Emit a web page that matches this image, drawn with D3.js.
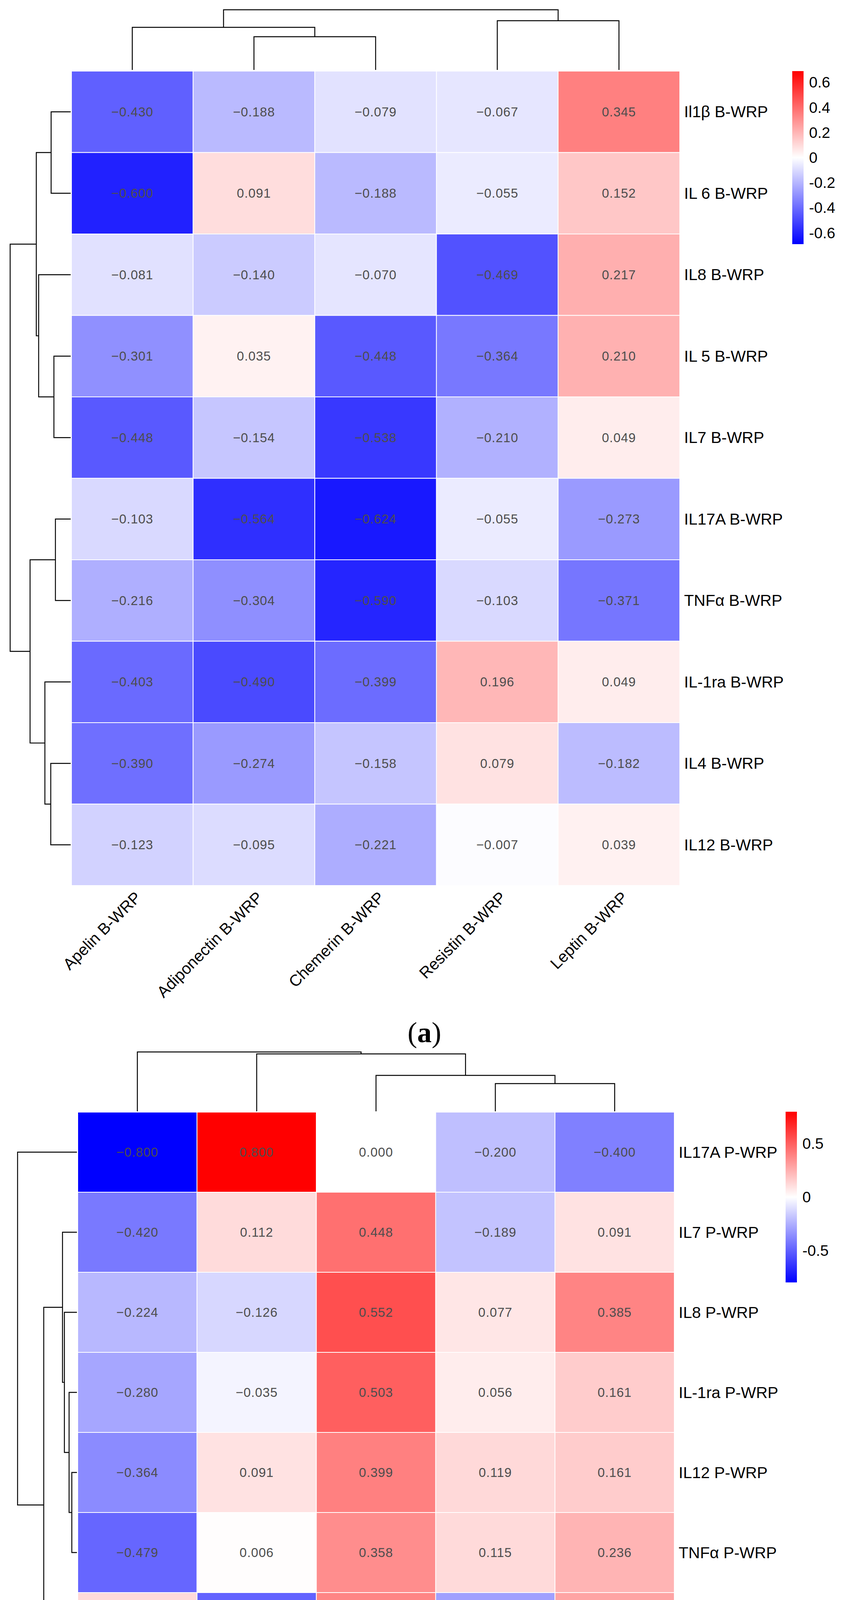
<!DOCTYPE html>
<html>
<head>
<meta charset="utf-8">
<script src="https://cdn.jsdelivr.net/npm/d3@7"></script>
<style>
  body { margin: 0; background: #fff; }
  svg { display: block; }
</style>
</head>
<body>
<svg width="2159" height="5323"></svg>
<script>
// ---- panel (a) data ----
const rowsA = ["Il1β B-WRP", "IL 6 B-WRP", "IL8 B-WRP", "IL 5 B-WRP", "IL7 B-WRP",
  "IL17A B-WRP", "TNFα B-WRP", "IL-1ra B-WRP", "IL4 B-WRP", "IL12 B-WRP"];
const colsA = ["Apelin B-WRP", "Adiponectin B-WRP", "Chemerin B-WRP", "Resistin B-WRP", "Leptin B-WRP"];
const valuesA = [
  [-0.430, -0.188, -0.079, -0.067, 0.345],
  [-0.600, 0.091, -0.188, -0.055, 0.152],
  [-0.081, -0.140, -0.070, -0.469, 0.217],
  [-0.301, 0.035, -0.448, -0.364, 0.210],
  [-0.448, -0.154, -0.538, -0.210, 0.049],
  [-0.103, -0.564, -0.624, -0.055, -0.273],
  [-0.216, -0.304, -0.590, -0.103, -0.371],
  [-0.403, -0.490, -0.399, 0.196, 0.049],
  [-0.390, -0.274, -0.158, 0.079, -0.182],
  [-0.123, -0.095, -0.221, -0.007, 0.039]
];
// hclust style merges: negative = leaf, positive = earlier merge (1-based), then height
const rowTreeA = [[-1, -2, 0.323], [-4, -5, 0.277], [-3, 2, 0.529], [1, 3, 0.568],
  [-6, -7, 0.252], [-9, -10, 0.329], [-8, 6, 0.426], [5, 7, 0.671], [4, 8, 1.0]];
const colTreeA = [[-2, -3, 0.552], [-1, 1, 0.708], [-4, -5, 0.818], [2, 3, 1.0]];
const legendTicksA = [0.6, 0.4, 0.2, 0, -0.2, -0.4, -0.6];
const limitA = 0.69;

// ---- panel (b) data ----
const rowsB = ["IL17A P-WRP", "IL7 P-WRP", "IL8 P-WRP", "IL-1ra P-WRP", "IL12 P-WRP",
  "TNFα P-WRP", "Il1β P-WRP", "IL4 P-WRP", "IL5 P-WRP", "IL6 P-WRP"];
const colsB = ["Adiponectin P-WRP", "Apelin P-WRP", "Leptin P-WRP", "Chemerin P-WRP", "Resistin P-WRP"];
const valuesB = [
  [-0.800, 0.800, 0.000, -0.200, -0.400],
  [-0.420, 0.112, 0.448, -0.189, 0.091],
  [-0.224, -0.126, 0.552, 0.077, 0.385],
  [-0.280, -0.035, 0.503, 0.056, 0.161],
  [-0.364, 0.091, 0.399, 0.119, 0.161],
  [-0.479, 0.006, 0.358, 0.115, 0.236],
  [0.115, -0.491, 0.382, -0.297, 0.285],
  [-0.200, -0.309, 0.345, 0.309, -0.127],
  [0.035, -0.133, 0.315, 0.070, 0.042],
  [0.055, -0.188, 0.383, 0.134, 0.304]
];
const rowTreeB = [[-5, -6, 0.086], [-4, 1, 0.132], [-3, 2, 0.211], [-2, 3, 0.243],
  [-9, -10, 0.151], [-8, 5, 0.296], [-7, 6, 0.408], [4, 7, 0.559], [-1, 8, 1.0]];
const colTreeB = [[-4, -5, 0.467], [-3, 1, 0.605], [-2, 2, 0.967], [-1, 3, 1.0]];
const legendTicksB = [0.5, 0, -0.5];
const limitB = 0.8;

const svg = d3.select("svg");
svg.append("rect").attr("width", 2159).attr("height", 5323).attr("fill", "#fff");
const root = svg.append("g");

const sans = "'Liberation Sans', Arial, Helvetica, sans-serif";

function fmt(v) {
  return d3.format(".3f")(v).replace("-", "\u2212");
}

// draw a dendrogram; pos(leaf) gives the leaf centre, hs maps height to pixels
function dendro(g, tree, pos, hs, vertical) {
  const nodes = [];
  const get = (k) => (k < 0 ? { p: pos(-k - 1), h: 0 } : nodes[k - 1]);
  tree.forEach(([a, b, h]) => {
    const A = get(a), B = get(b);
    nodes.push({ p: (A.p + B.p) / 2, h: h });
    let pts = [[A.p, A.h], [A.p, h], [B.p, h], [B.p, B.h]];
    pts = pts.map(([p, hh]) => (vertical ? [p, hs(hh)] : [hs(hh), p]));
    g.append("path")
      .attr("d", d3.line()(pts))
      .attr("fill", "none")
      .attr("stroke", "#000")
      .attr("stroke-width", 2.4);
  });
}

function panel(cfg) {
  const g = root.append("g");
  const x = d3.scaleBand().domain(cfg.cols).range([cfg.x0, cfg.x1]);
  const y = d3.scaleBand().domain(cfg.rows).range([cfg.y0, cfg.y1]);
  const color = d3.scaleLinear()
    .domain([-cfg.limit, 0, cfg.limit])
    .range(["#0000ff", "#ffffff", "#ff0000"])
    .clamp(true);

  const cells = [];
  cfg.values.forEach((row, i) =>
    row.forEach((v, j) => cells.push({ r: cfg.rows[i], c: cfg.cols[j], v: v })));

  g.selectAll("rect.cell").data(cells).enter().append("rect")
    .attr("class", "cell")
    .attr("x", (d) => x(d.c))
    .attr("y", (d) => y(d.r))
    .attr("width", x.bandwidth())
    .attr("height", y.bandwidth())
    .attr("fill", (d) => color(d.v))
    .attr("stroke", "#fff")
    .attr("stroke-width", 2);

  g.selectAll("text.num").data(cells).enter().append("text")
    .attr("class", "num")
    .attr("x", (d) => x(d.c) + x.bandwidth() / 2)
    .attr("y", (d) => y(d.r) + y.bandwidth() / 2)
    .attr("text-anchor", "middle")
    .attr("dominant-baseline", "central")
    .style("font-family", sans)
    .style("font-size", "33px")
    .style("letter-spacing", "1px")
    .attr("fill", "#4d4d4d")
    .text((d) => fmt(d.v));

  // row labels
  g.selectAll("text.rl").data(cfg.rows).enter().append("text")
    .attr("x", cfg.x1 + cfg.labelGap)
    .attr("y", (d) => y(d) + y.bandwidth() / 2)
    .attr("dominant-baseline", "central")
    .style("font-family", sans)
    .style("font-size", "41px")
    .attr("fill", "#000")
    .text((d) => d);

  // column labels, rotated 45 degrees
  g.selectAll("text.cl").data(cfg.cols).enter().append("text")
    .attr("transform", (d) => `translate(${x(d) + x.bandwidth() / 2 + 4},${cfg.y1 + 12}) rotate(-45)`)
    .attr("text-anchor", "end")
    .attr("dominant-baseline", "hanging")
    .style("font-family", sans)
    .style("font-size", "41px")
    .attr("fill", "#000")
    .text((d) => d);

  // dendrograms
  const rowH = d3.scaleLinear().domain([0, 1]).range([cfg.rowLeaf, cfg.rowRoot]);
  dendro(g, cfg.rowTree, (i) => y(cfg.rows[i]) + y.bandwidth() / 2, rowH, false);
  const colH = d3.scaleLinear().domain([0, 1]).range([cfg.colLeaf, cfg.colRoot]);
  dendro(g, cfg.colTree, (i) => x(cfg.cols[i]) + x.bandwidth() / 2, colH, true);

  // colour legend
  const ly = d3.scaleLinear().domain([cfg.limit, -cfg.limit]).range([cfg.legY0, cfg.legY1]);
  const gradId = "grad" + cfg.id;
  const grad = svg.append("defs").append("linearGradient")
    .attr("id", gradId).attr("x1", 0).attr("y1", 0).attr("x2", 0).attr("y2", 1);
  [cfg.limit, 0, -cfg.limit].forEach((v) => {
    grad.append("stop")
      .attr("offset", (ly(v) - cfg.legY0) / (cfg.legY1 - cfg.legY0))
      .attr("stop-color", color(v));
  });
  g.append("rect")
    .attr("x", cfg.legX).attr("y", cfg.legY0)
    .attr("width", 29).attr("height", cfg.legY1 - cfg.legY0)
    .attr("fill", `url(#${gradId})`);
  g.selectAll("text.leg").data(cfg.ticks).enter().append("text")
    .attr("x", cfg.legX + 43)
    .attr("y", (d) => ly(d))
    .attr("dominant-baseline", "central")
    .style("font-family", sans)
    .style("font-size", "39px")
    .attr("fill", "#000")
    .text((d) => (d === 0 ? "0" : String(d)));

  // panel tag
  const tag = g.append("text")
    .attr("x", cfg.tagX).attr("y", cfg.tagY)
    .attr("text-anchor", "middle")
    .style("font-family", "'Liberation Serif', 'DejaVu Serif', serif")
    .style("font-size", "74px")
    .attr("fill", "#000");
  tag.append("tspan").text("(");
  tag.append("tspan").style("font-weight", "bold").text(cfg.tag);
  tag.append("tspan").text(")");
}

panel({
  id: "a", rows: rowsA, cols: colsA, values: valuesA, limit: limitA,
  x0: 183, x1: 1741, y0: 182, y1: 2267, labelGap: 11,
  rowTree: rowTreeA, colTree: colTreeA,
  rowLeaf: 181, rowRoot: 26, colLeaf: 179, colRoot: 25,
  legX: 2029, legY0: 182, legY1: 625, ticks: legendTicksA,
  tag: "a", tagX: 1087, tagY: 2668
});

panel({
  id: "b", rows: rowsB, cols: colsB, values: valuesB, limit: limitB,
  x0: 199, x1: 1727, y0: 2847, y1: 4897, labelGap: 11,
  rowTree: rowTreeB, colTree: colTreeB,
  rowLeaf: 197, rowRoot: 45, colLeaf: 2845, colRoot: 2693,
  legX: 2012, legY0: 2846, legY1: 3283, ticks: legendTicksB,
  tag: "b", tagX: 1088, tagY: 5289
});
</script>
</body>
</html>
